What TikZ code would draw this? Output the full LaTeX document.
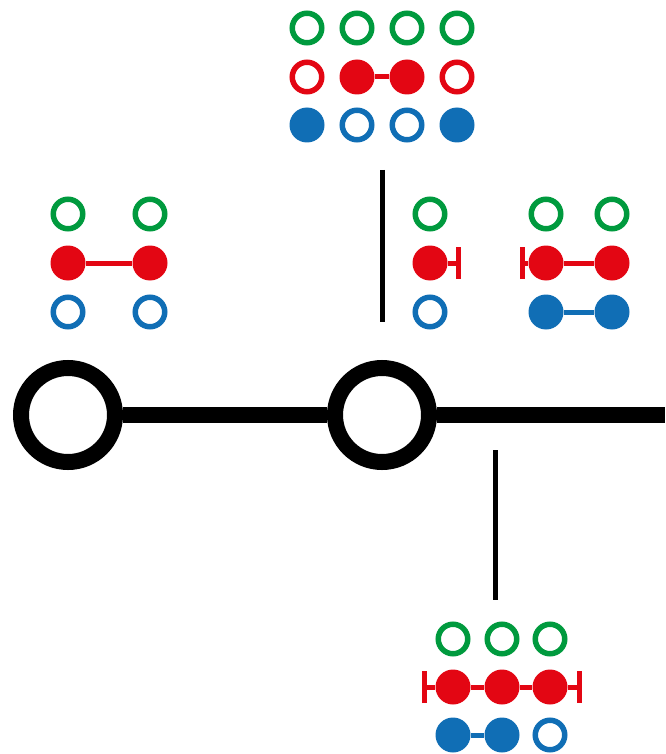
\documentclass[tikz,border=0pt]{standalone}
\usepackage{tikz}
\usetikzlibrary{arrows.meta}
\definecolor{grn}{RGB}{0,154,62}
\definecolor{rd}{RGB}{227,6,19}
\definecolor{bl}{RGB}{16,110,181}
\tikzset{
  ring/.style={circle, draw=#1, line width=5.5pt, minimum size=29.5pt, inner sep=0pt},
  dot/.style={circle, fill=#1, minimum size=35pt, inner sep=0pt},
  link/.style={draw=#1, line width=5pt},
  bigring/.style={circle, draw, line width=16pt, minimum size=94pt, inner sep=0pt},
}

\begin{document}
\begin{tikzpicture}[x=1pt, y=-1pt]
      \useasboundingbox (0, 0) rectangle (665, 754);

      % chain
      \node [bigring] (n1) at (68, 415) {};
      \node [bigring] (n2) at (382, 415) {};
      \coordinate (nend) at (665, 415);
      \draw [line width=16pt] (n1) -- (n2) -- (nend);
      \coordinate (up1) at (382, 170);
      \coordinate (up2) at (382, 322);
      \draw [line width=5pt] (up1) -- (up2);
      \coordinate (lo1) at (495, 450);
      \coordinate (lo2) at (495, 600);
      \draw [line width=5pt] (lo1) -- (lo2);

      % top group
      \foreach \i/\x in {1/307, 2/357, 3/407, 4/457}
        \node [ring=grn] (tg\i) at (\x, 28) {};
      \node [ring=rd] (tr1) at (307, 77) {};
      \node [dot=rd] (tr2) at (357, 77) {};
      \node [dot=rd] (tr3) at (407, 77) {};
      \node [ring=rd] (tr4) at (457, 77) {};
      \draw [link=rd] (tr2) -- (tr3);
      \node [dot=bl] (tb1) at (307, 125) {};
      \node [ring=bl] (tb2) at (357, 125) {};
      \node [ring=bl] (tb3) at (407, 125) {};
      \node [dot=bl] (tb4) at (457, 125) {};

      % left group
      \node [ring=grn] (lg1) at (68, 214) {};
      \node [ring=grn] (lg2) at (150, 214) {};
      \node [dot=rd] (lr1) at (68, 263) {};
      \node [dot=rd] (lr2) at (150, 263) {};
      \draw [link=rd] (lr1) -- (lr2);
      \node [ring=bl] (lb1) at (68, 312) {};
      \node [ring=bl] (lb2) at (150, 312) {};

      % middle group
      \node [ring=grn] (mg) at (430, 214) {};
      \node [dot=rd] (mr) at (430, 263) {};
      \coordinate (mbar) at (461, 263);
      \draw [link=rd, -{Bar[width=32pt]}] (mr) -- (mbar);
      \node [ring=bl] (mb) at (430, 312) {};

      % right group
      \node [ring=grn] (rg1) at (546, 214) {};
      \node [ring=grn] (rg2) at (612, 214) {};
      \node [dot=rd] (rr1) at (546, 263) {};
      \node [dot=rd] (rr2) at (612, 263) {};
      \coordinate (rbar) at (520, 263);
      \draw [link=rd] (rr1) -- (rr2);
      \draw [link=rd, -{Bar[width=32pt]}] (rr1) -- (rbar);
      \node [dot=bl] (rb1) at (546, 312) {};
      \node [dot=bl] (rb2) at (612, 312) {};
      \draw [link=bl] (rb1) -- (rb2);

      % bottom group
      \foreach \i/\x in {1/453, 2/502, 3/550}
        \node [ring=grn] (bg\i) at (\x, 639) {};
      \foreach \i/\x in {1/453, 2/502, 3/550}
        \node [dot=rd] (br\i) at (\x, 687) {};
      \coordinate (bbar1) at (422, 687);
      \coordinate (bbar2) at (582, 687);
      \draw [link=rd] (br1) -- (br2) -- (br3);
      \draw [link=rd, -{Bar[width=32pt]}] (br1) -- (bbar1);
      \draw [link=rd, -{Bar[width=32pt]}] (br3) -- (bbar2);
      \node [dot=bl] (bb1) at (453, 735) {};
      \node [dot=bl] (bb2) at (502, 735) {};
      \node [ring=bl] (bb3) at (550, 735) {};
      \draw [link=bl] (bb1) -- (bb2);
    \end{tikzpicture}
\end{document}
